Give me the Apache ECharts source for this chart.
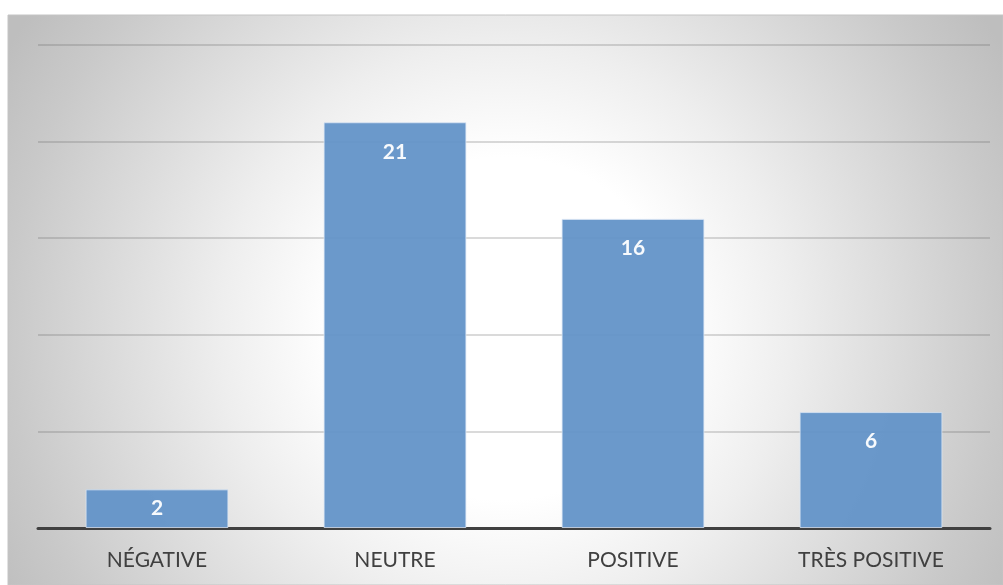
<!DOCTYPE html>
<html>
<head>
<meta charset="utf-8">
<script src="https://cdn.jsdelivr.net/npm/echarts@6/dist/echarts.min.js"></script>
<style>
    html, body { margin: 0; padding: 0; background: #fff; }
    #chart { width: 1003px; height: 585px; }
</style>
</head>
<body>
<div id="chart"></div>
<script>
    // données
    const categories = ["NÉGATIVE", "NEUTRE", "POSITIVE", "TRÈS POSITIVE"];
    const values = [2, 21, 16, 6];
    const yMax = 25;
    const yStep = 5;

    const chart = echarts.init(document.getElementById("chart"));

    // barre trop courte : étiquette centrée, comme dans Excel
    const barData = values.map(v => v < 3 ? { value: v, label: { position: "inside" } } : v);

    const option = {
        animation: false,
        graphic: [
            {
                type: "rect",
                z: -10,
                shape: { x: 8, y: 15, width: 995, height: 570 },
                style: {
                    fill: {
                        type: "radial", x: 0.5, y: 0.55, r: 1.0,
                        colorStops: [
                            { offset: 0, color: "#ffffff" },
                            { offset: 0.3, color: "#ffffff" },
                            { offset: 0.5, color: "#eeeeee" },
                            { offset: 0.87, color: "#c9c9c9" },
                            { offset: 1, color: "#bebebe" }
                        ]
                    },
                    stroke: "#c4c4c4",
                    lineWidth: 1
                }
            }
        ],
        grid: {
            left: 38,
            right: 13,
            top: 45,
            bottom: 57
        },
        xAxis: {
            type: "category",
            data: categories,
            axisTick: { show: false },
            axisLine: { lineStyle: { color: "#404040", width: 3 } },
            axisLabel: {
                color: "#404040",
                fontFamily: "Lato",
                fontSize: 21,
                margin: 22
            }
        },
        yAxis: {
            type: "value",
            min: 0,
            max: yMax,
            interval: yStep,
            axisLabel: { show: false },
            axisLine: { show: false },
            axisTick: { show: false },
            splitLine: { lineStyle: { color: "rgba(90,90,90,0.3)", width: 1.5 } }
        },
        series: [
            {
                type: "bar",
                data: barData,
                barWidth: "60%",
                itemStyle: {
                    color: "#6393c8",
                    opacity: 0.95,
                    borderColor: "rgba(220,230,245,0.8)",
                    borderWidth: 1
                },
                label: {
                    show: true,
                    position: "insideTop",
                    distance: 19,
                    color: "#ffffff",
                    fontWeight: "bold",
                    fontFamily: "Lato",
                    fontSize: 21
                }
            }
        ]
    };
    chart.setOption(option);
</script>
</body>
</html>
